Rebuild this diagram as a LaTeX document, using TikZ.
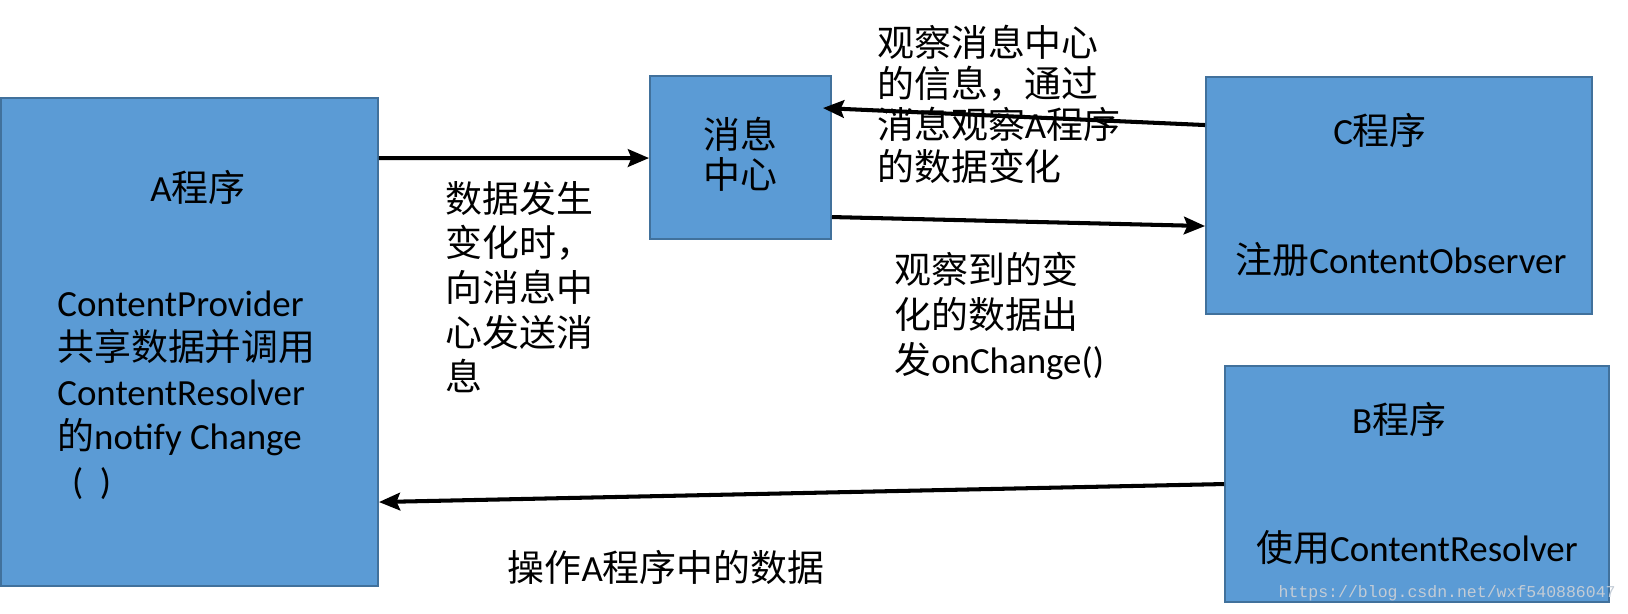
\documentclass[tikz,border=0pt]{standalone}
\usepackage{fontspec}
\setmainfont{Noto Sans CJK SC}
\newfontfamily\lat{Carlito}
\newfontfamily\wmfont{Liberation Mono}
\usetikzlibrary{arrows.meta,calc,fit}
\definecolor{boxfill}{HTML}{5B9BD5}
\definecolor{boxline}{HTML}{41719C}
\definecolor{wmgray}{HTML}{C3CCD6}
\newcommand{\en}[1]{{\lat #1}}

\begin{document}
\begin{tikzpicture}[x=0.02cm, y=-0.02cm,
	prog/.style={draw=boxline, fill=boxfill, line width=1.1pt, inner sep=0pt},
	txt/.style={inner sep=0pt, font=\fontsize{21}{25.4}\selectfont},
	note/.style={txt, align=left, anchor=west},
	link/.style={-{Stealth[length=12pt,width=10pt,inset=2pt]}, line width=2.3pt}]
	\useasboundingbox (0,0) rectangle (1628,613);

	\node[prog, fit={(1,98) (378,586)}] (A) {};
	\node[prog, fit={(650,76) (831,239)}] (msg) {};
	\node[prog, fit={(1206,77) (1592,314)}] (C) {};
	\node[prog, fit={(1225,366) (1609,602)}] (B) {};

	\node[txt] (Atitle) at (198,187) {\en{A}程序};
	\node[note] (Abody) at (57,395) {\en{ContentProvider}\\共享数据并调用\\\en{ContentResolver}\\的\en{notify Change}\\\en{\kern0.4em(\kern0.45em)}};
	\node[txt, align=center, font=\fontsize{21}{22.8}\selectfont] (msgtext) at (740,154) {消息\\中心};
	\node[txt] (Ctitle) at (1380,130) {\en{C}程序};
	\node[txt] (Cbody) at (1401,260) {注册\en{ContentObserver}};
	\node[txt] (Btitle) at (1399,419) {\en{B}程序};
	\node[txt] (Bbody) at (1417,548) {使用\en{ContentResolver}};

	\node[note] (sendnote) at (445,287) {数据发生\\变化时，\\向消息中\\心发送消\\息};
	\node[note, font=\fontsize{21}{23.5}\selectfont] (watchnote) at (877,104) {观察消息中心\\的信息，通过\\消息观察\en{A}程序\\的数据变化};
	\node[note] (changenote) at (894,316) {观察到的变\\化的数据出\\发\en{onChange()}};
	\node[txt] (opnote) at (666,567) {操作\en{A}程序中的数据};

	\draw[link] ($(A.north east)+(0,61)$) -- ($(msg.north west)+(0,83)$);
	\draw[link] ($(C.north west)+(0,49)$) -- ($(msg.north east)+(-9,33)$);
	\draw[link] ($(msg.north east)+(0,142)$) -- ($(C.north west)+(0,150)$);
	\draw[link] ($(B.north west)+(0,119)$) -- ($(A.north east)+(0,405)$);

	\node[anchor=east, inner sep=0pt, text=wmgray, font=\wmfont\fontsize{9.4}{11}\selectfont] (mark) at (1616,593) {https://blog.csdn.net/wxf540886047};
\end{tikzpicture}
\end{document}
